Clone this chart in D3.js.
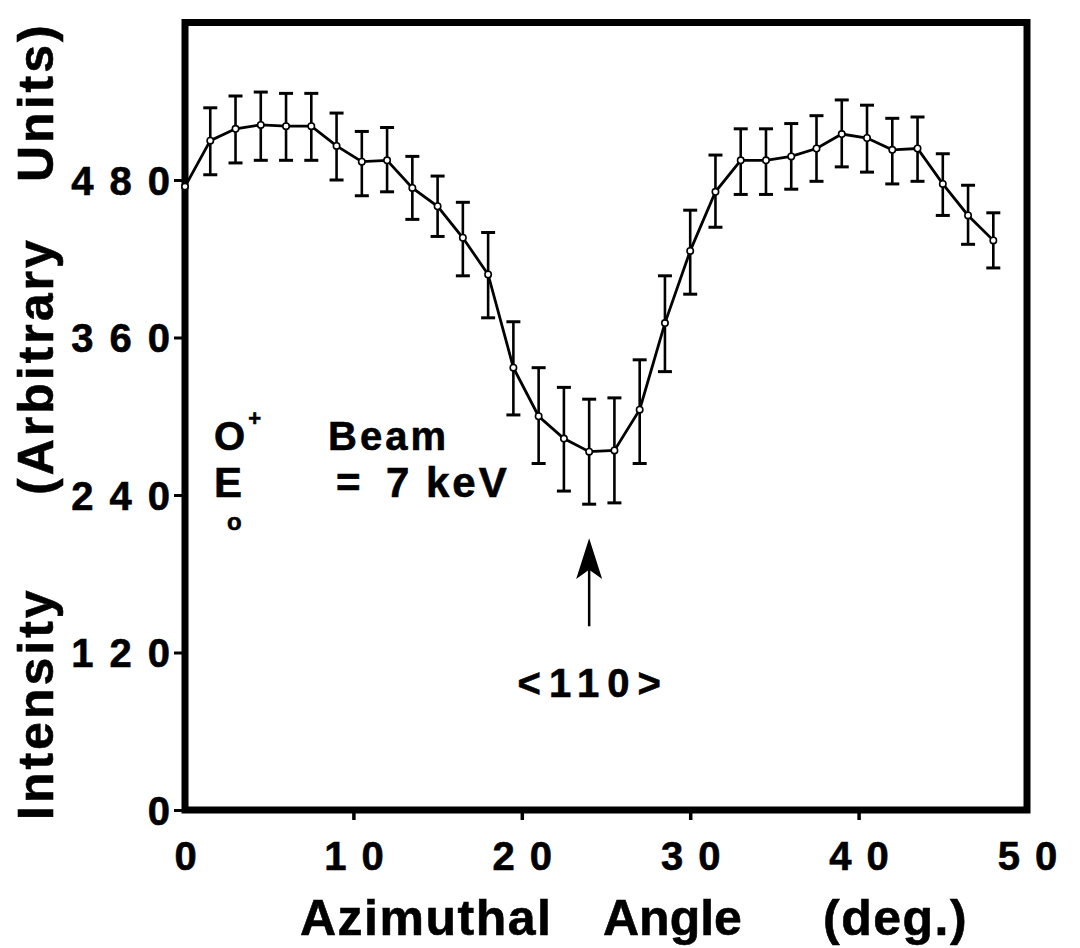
<!DOCTYPE html>
<html>
<head>
<meta charset="utf-8">
<script src="https://cdn.jsdelivr.net/npm/d3@7"></script>
<style>
  html, body { margin: 0; padding: 0; background: #fff; }
  svg { display: block; }
  text { font-family: "Liberation Sans", Arial, Helvetica, sans-serif; font-weight: bold; fill: #000; stroke: #000; stroke-width: 0.6px; }
</style>
</head>
<body>
<svg id="chart" width="1080" height="948"></svg>
<script>
// ---- data ----
const angles = [0, 1.5, 3, 4.5, 6, 7.5, 9, 10.5, 12, 13.5, 15, 16.5, 18, 19.5, 21, 22.5, 24,
                25.5, 27, 28.5, 30, 31.5, 33, 34.5, 36, 37.5, 39, 40.5, 42, 43.5, 45, 46.5, 48];
const intensity = [475, 510, 519, 522, 521, 521, 506, 494, 495, 474, 460, 436, 408, 337, 300, 283, 273,
                   274, 305, 371, 426, 471, 495, 495, 498, 504, 515, 512, 503, 504, 477, 453, 434];
const errHigh = [null, 535, 544, 547, 546, 546, 531, 517, 520, 498, 483, 463, 440, 372, 337, 322, 313,
                 314, 343, 407, 457, 499, 519, 519, 523, 529, 541, 537, 527, 528, 500, 476, 455];
const errLow  = [null, 484, 493, 495, 495, 495, 480, 468, 471, 450, 437, 407, 375, 301, 264, 243, 233,
                 234, 264, 334, 393, 444, 469, 469, 473, 479, 490, 486, 477, 479, 453, 431, 413];
const xTicks = [0, 10, 20, 30, 40, 50];
const xTickLabels = ["0", "10", "20", "30", "40", "50"];
const yTicks = [0, 120, 240, 360, 480];
const yTickLabels = ["0", "120", "240", "360", "480"];
const xTitleWords = ["Azimuthal", "Angle", "(deg.)"];
const yTitleWords = ["Intensity", "(Arbitrary", "Units)"];
const arrowAngle = 24;
const arrowLabel = "<110>";

// ---- layout ----
const svg = d3.select("#chart");
const x = d3.scaleLinear().domain([0, 50]).range([185, 1027]);
const y = d3.scaleLinear().domain([0, 600]).range([810, 22.5]);

// frame
svg.append("rect")
  .attr("x", x(0)).attr("y", y(600))
  .attr("width", x(50) - x(0)).attr("height", y(0) - y(600))
  .attr("fill", "none").attr("stroke", "#000").attr("stroke-width", 7);

// y axis
const yAxis = d3.axisLeft(y).tickValues(yTicks).tickSize(9).tickPadding(4)
  .tickFormat((d, i) => yTickLabels[i]);
const gy = svg.append("g").attr("transform", `translate(${x(0) - 2},0)`).call(yAxis);
gy.select(".domain").remove();
gy.selectAll(".tick line").attr("stroke", "#000").attr("stroke-width", 3);
gy.selectAll(".tick text")
  .attr("font-size", 40).attr("letter-spacing", 16).attr("dx", 16).attr("dy", "0.36em")
  .style("font-family", '"Liberation Sans", Arial, sans-serif').style("font-weight", "bold");

// x axis
const xAxis = d3.axisBottom(x).tickValues(xTicks).tickSize(8).tickPadding(22)
  .tickFormat((d, i) => xTickLabels[i]);
const gx = svg.append("g").attr("transform", `translate(0,${y(0) + 2})`).call(xAxis);
gx.select(".domain").remove();
gx.selectAll(".tick line").attr("stroke", "#000").attr("stroke-width", 3.5)
  .attr("opacity", (d) => (d === 0 || d === 50) ? 0 : 1);
gx.selectAll(".tick text")
  .attr("font-size", 40).attr("letter-spacing", 15).attr("dx", 7.5).attr("dy", "0.71em")
  .style("font-family", '"Liberation Sans", Arial, sans-serif').style("font-weight", "bold");

// data
const pts = angles.map((a, i) => ({ a, v: intensity[i], hi: errHigh[i], lo: errLow[i] }));

// error bars
const eb = svg.append("g").attr("stroke", "#000").attr("stroke-width", 2.6).attr("fill", "none");
pts.filter(d => d.hi !== null).forEach(d => {
  eb.append("line").attr("x1", x(d.a)).attr("x2", x(d.a)).attr("y1", y(d.hi)).attr("y2", y(d.lo));
  eb.append("line").attr("x1", x(d.a) - 7).attr("x2", x(d.a) + 7).attr("y1", y(d.hi)).attr("y2", y(d.hi)).attr("stroke-width", 3);
  eb.append("line").attr("x1", x(d.a) - 7).attr("x2", x(d.a) + 7).attr("y1", y(d.lo)).attr("y2", y(d.lo)).attr("stroke-width", 3);
});

// line
svg.append("path").datum(pts)
  .attr("fill", "none").attr("stroke", "#000").attr("stroke-width", 2.8)
  .attr("d", d3.line().x(d => x(d.a)).y(d => y(d.v)));

// markers
svg.append("g").selectAll("circle").data(pts).join("circle")
  .attr("cx", d => x(d.a)).attr("cy", d => y(d.v)).attr("r", 3.2)
  .attr("fill", "#fff").attr("stroke", "#000").attr("stroke-width", 1.6);

// annotations
const ann1 = svg.append("text").attr("x", 214).attr("y", 450).attr("font-size", 40).attr("letter-spacing", 3);
ann1.append("tspan").text("O");
ann1.append("tspan").attr("font-size", 22).attr("dy", -24).text("+");
ann1.append("tspan").attr("x", 328).attr("dy", 24).text("Beam");

const ann2 = svg.append("text").attr("x", 214).attr("y", 497).attr("font-size", 42).attr("letter-spacing", 3);
ann2.append("tspan").text("E");
ann2.append("tspan").attr("x", 336).text("=");
ann2.append("tspan").attr("x", 386).text("7");
ann2.append("tspan").attr("x", 426).text("keV");
svg.append("text").attr("x", 227).attr("y", 530).attr("font-size", 24).text("o");

// arrow to <110>
const ax = x(arrowAngle);
svg.append("line").attr("x1", ax).attr("x2", ax).attr("y1", y(140)).attr("y2", y(190))
  .attr("stroke", "#000").attr("stroke-width", 2.5);
svg.append("path")
  .attr("d", `M${ax},${y(207)} L${ax - 13},${y(176)} L${ax},${y(183)} L${ax + 13},${y(176)} Z`)
  .attr("fill", "#000");
svg.append("text").attr("x", ax + 4).attr("y", 697).attr("text-anchor", "middle")
  .attr("font-size", 40).attr("letter-spacing", 8).text(arrowLabel);

// axis titles
const xt = svg.append("text").attr("y", 935).attr("font-size", 50).attr("letter-spacing", 1.5);
[[300, 1.5], [603, 0], [823, 1.5]].forEach(([px, ls], i) =>
  xt.append("tspan").attr("x", px).attr("letter-spacing", ls).text(xTitleWords[i]));

const yt = svg.append("text").attr("transform", "translate(53,0) rotate(-90)")
  .attr("font-size", 50).attr("letter-spacing", 3);
[820, 495, 182].forEach((py, i) => yt.append("tspan").attr("x", -py).text(yTitleWords[i]));
</script>
</body>
</html>
